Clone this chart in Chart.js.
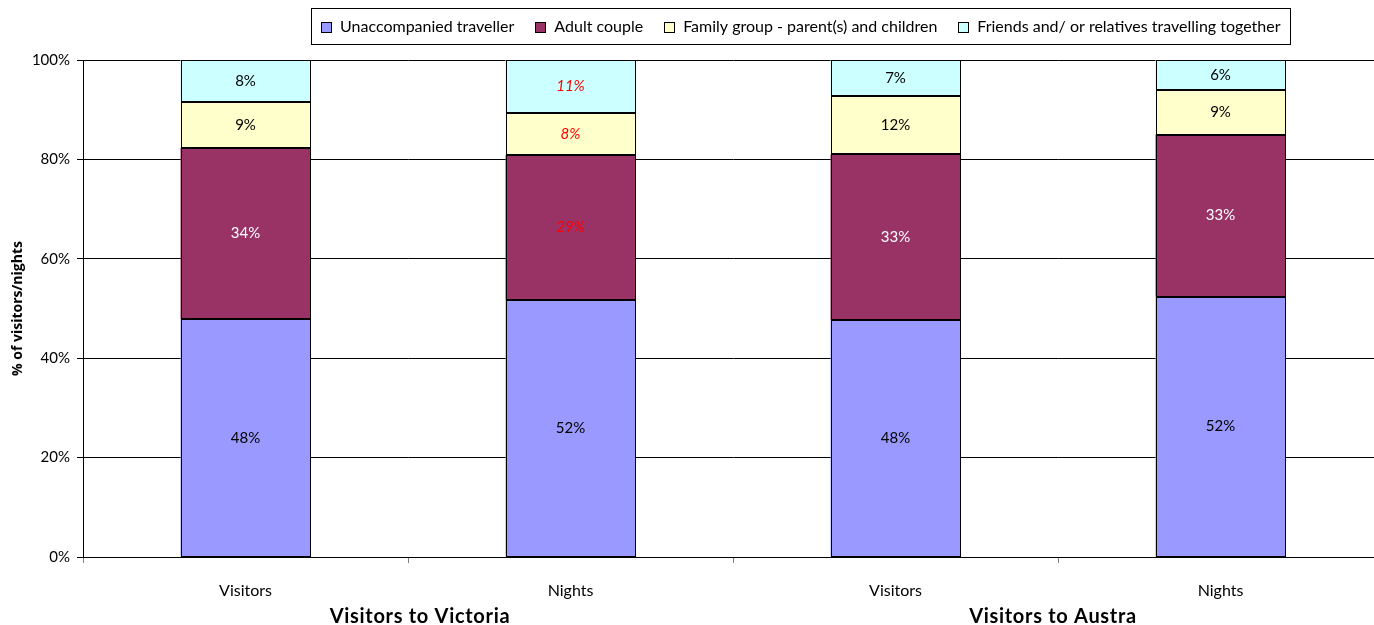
<!DOCTYPE html>
<html>
<head>
<meta charset="utf-8">
<script src="https://cdn.jsdelivr.net/npm/chart.js@4/dist/chart.umd.min.js"></script>
<style>
  html, body { margin: 0; padding: 0; background: #fff; overflow: hidden; width: 1374px; height: 625px; }
  #wrap { position: absolute; left: 0; top: 0; width: 1384px; height: 625px; }
</style>
</head>
<body>
<div id="wrap"><canvas id="c" width="1384" height="625"></canvas></div>
<script>
// ---- data ----
const categories = ['Visitors', 'Nights', 'Visitors', 'Nights'];
const groups = ['Visitors to Victoria', 'Visitors to Austra'];
const seriesNames = [
  'Unaccompanied traveller',
  'Adult couple',
  'Family group - parent(s) and children',
  'Friends and/ or relatives travelling together'
];
const unaccompanied = [47.9, 51.7, 47.6, 52.4];
const adultCouple   = [34.4, 29.2, 33.4, 32.6];
const familyGroup   = [9.3, 8.4, 11.7, 8.9];
const friendsRel    = [8.4, 10.7, 7.3, 6.1];
const yTicks = [0, 20, 40, 60, 80, 100];

// ---- styles ----
const colors = ['#9999FF', '#993366', '#FFFFCC', '#CCFFFF'];
const labelColors = ['#000000', '#FFFFFF', '#000000', '#000000'];
const FONT = 'Lato, "DejaVu Sans", sans-serif';
const highlightBar = 1; // bar whose labels are red italic in the reference (except first series)

const seriesData = [unaccompanied, adultCouple, familyGroup, friendsRel];

const outlinesAndLabels = {
  id: 'outlinesAndLabels',
  afterDatasetsDraw(chart) {
    const ctx = chart.ctx;
    ctx.save();
    // crisp outlines
    ctx.strokeStyle = '#000';
    ctx.lineWidth = 1;
    chart.data.datasets.forEach((ds, di) => {
      chart.getDatasetMeta(di).data.forEach(el => {
        const l = Math.round(el.x - el.width / 2) + 0.5;
        const r = Math.round(el.x + el.width / 2) - 0.5;
        const t = Math.round(el.y) + 0.5;
        const b = Math.round(el.base) - 0.5;
        ctx.strokeRect(l, t, r - l, b - t);
      });
    });
    // value labels
    ctx.textAlign = 'center';
    ctx.textBaseline = 'middle';
    chart.data.datasets.forEach((ds, di) => {
      chart.getDatasetMeta(di).data.forEach((el, i) => {
        const v = ds.data[i];
        const red = (i === highlightBar && di > 0);
        ctx.fillStyle = red ? '#FF0000' : labelColors[di];
        ctx.font = (red ? 'italic ' : '') + '15px ' + FONT;
        ctx.fillText(Math.round(v) + '%', el.x, (el.y + el.base) / 2);
      });
    });
    ctx.restore();
  }
};

const extras = {
  id: 'extras',
  afterDraw(chart) {
    const ctx = chart.ctx;
    const xs = chart.scales.x;
    ctx.save();
    // group labels
    ctx.fillStyle = '#000';
    ctx.font = 'bold 20px ' + FONT;
    ctx.textAlign = 'center';
    ctx.textBaseline = 'middle';
    if ('letterSpacing' in ctx) ctx.letterSpacing = '0.7px';
    const offs = [12, -5];
    groups.forEach((g, gi) => {
      const x = (xs.getPixelForValue(gi * 2) + xs.getPixelForValue(gi * 2 + 1)) / 2 + offs[gi];
      ctx.fillText(g, x, 617);
    });
    if ('letterSpacing' in ctx) ctx.letterSpacing = '0px';
    // legend
    ctx.font = '16px ' + FONT;
    ctx.textAlign = 'left';
    const boxW = 10, gapBT = 9, gapItem = 21;
    const widths = seriesNames.map(n => ctx.measureText(n).width);
    let total = 0;
    widths.forEach((w, i) => { total += boxW + gapBT + w + (i < widths.length - 1 ? gapItem : 0); });
    const padX = 10;
    const cx = 801;
    const lx = Math.round(cx - total / 2 - padX);
    const ly = 8, lh = 36;
    ctx.strokeStyle = '#000';
    ctx.lineWidth = 1;
    ctx.strokeRect(lx + 0.5, ly + 0.5, Math.round(total + 2 * padX), lh);
    let x = lx + padX;
    const cy = ly + lh / 2 + 1;
    seriesNames.forEach((n, i) => {
      const bx = Math.round(x) + 0.5, by = Math.round(cy - 5) + 0.5;
      ctx.fillStyle = colors[i];
      ctx.fillRect(bx, by, boxW, boxW);
      ctx.strokeRect(bx, by, boxW, boxW);
      ctx.fillStyle = '#000';
      ctx.fillText(n, x + boxW + gapBT, cy);
      x += boxW + gapBT + widths[i] + gapItem;
    });
    ctx.restore();
  }
};

new Chart(document.getElementById('c'), {
  type: 'bar',
  data: {
    labels: categories,
    datasets: seriesData.map((d, i) => ({
      label: seriesNames[i],
      data: d,
      backgroundColor: colors[i],
      borderWidth: 0,
      barPercentage: 0.4,
      categoryPercentage: 1.0
    }))
  },
  options: {
    responsive: false,
    animation: false,
    devicePixelRatio: 1,
    layout: { padding: { top: 60, left: 0, right: 1, bottom: 0 } },
    plugins: { legend: { display: false }, tooltip: { enabled: false } },
    scales: {
      x: {
        stacked: true,
        afterFit(s) { s.height = 68; },
        grid: { display: true, offset: true, drawOnChartArea: false, drawTicks: true, tickLength: 6, color: '#808080', lineWidth: 1 },
        border: { display: true, color: '#000', width: 1 },
        ticks: { color: '#000', font: { family: FONT, size: 16 }, padding: 18, maxRotation: 0 }
      },
      y: {
        stacked: true,
        min: 0, max: 100,
        afterFit(s) { s.width = 83; },
        afterBuildTicks(s) { s.ticks = yTicks.map(v => ({ value: v })); },
        grid: { color: '#000', lineWidth: 1, tickLength: 6, drawTicks: true },
        border: { display: true, color: '#000', width: 1 },
        ticks: { color: '#000', font: { family: FONT, size: 15 }, padding: 7, callback: v => v + '%' },
        title: { display: true, text: '% of visitors/nights', color: '#000', font: { family: '"Open Sans", Lato, sans-serif', size: 14, weight: 'bold' }, padding: { top: 10, bottom: 0 } }
      }
    }
  },
  plugins: [outlinesAndLabels, extras]
});
</script>
</body>
</html>
